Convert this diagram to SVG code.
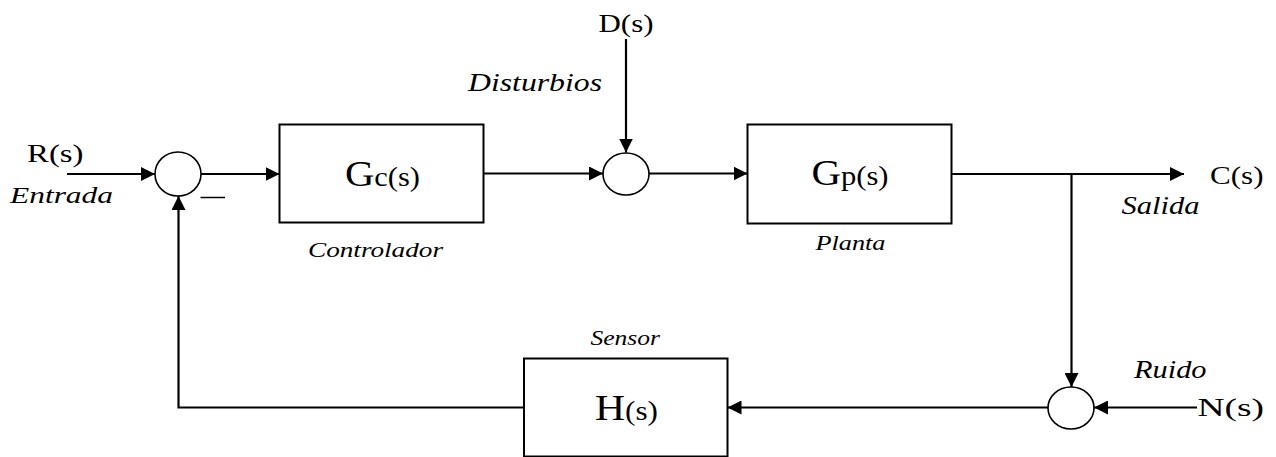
<svg xmlns="http://www.w3.org/2000/svg" width="1276" height="457" viewBox="0 0 1276 457">
<defs>
<marker id="arr" markerUnits="userSpaceOnUse" markerWidth="15" markerHeight="14" refX="14" refY="7" orient="auto">
<path d="M0,0 L14,7 L0,14 z" fill="#000"/>
</marker>
</defs>
<style>
.box{fill:#fff;stroke:#000;stroke-width:2}
.sum{fill:#fff;stroke:#000;stroke-width:1.6}
.ln{fill:none;stroke:#000;stroke-width:2.2}
text{font-family:'Liberation Serif','Times New Roman',serif;fill:#000}
.lab{font-style:italic}
</style>
<rect width="1276" height="457" fill="#fff"/>
<g id="connectors">
<line class="ln" x1="67" y1="174" x2="155" y2="174" marker-end="url(#arr)"/>
<line class="ln" x1="201" y1="174" x2="279.5" y2="174" marker-end="url(#arr)"/>
<line class="ln" x1="483.5" y1="173.5" x2="603" y2="173.5" marker-end="url(#arr)"/>
<line class="ln" x1="626" y1="39" x2="626" y2="152.5" marker-end="url(#arr)"/>
<line class="ln" x1="649" y1="173.5" x2="747.5" y2="173.5" marker-end="url(#arr)"/>
<line class="ln" x1="951.5" y1="174" x2="1184" y2="174" marker-end="url(#arr)"/>
<line class="ln" x1="1071.5" y1="174" x2="1071.5" y2="387" marker-end="url(#arr)"/>
<line class="ln" x1="1197" y1="407.5" x2="1094" y2="407.5" marker-end="url(#arr)"/>
<line class="ln" x1="1048" y1="407.5" x2="727.5" y2="407.5" marker-end="url(#arr)"/>
<polyline class="ln" points="524,407.5 178.5,407.5 178.5,196" marker-end="url(#arr)"/>
<line x1="200.5" y1="197.5" x2="225" y2="197.5" stroke="#000" stroke-width="1.5"/>
</g>
<g id="sum1"><ellipse class="sum" cx="178" cy="174" rx="23" ry="22"/></g>
<g id="sum2"><ellipse class="sum" cx="626" cy="174" rx="23" ry="21"/></g>
<g id="sum3"><ellipse class="sum" cx="1071" cy="408" rx="23" ry="21"/></g>
<g id="gc">
<rect class="box" x="279.5" y="124.5" width="204" height="98"/>
<text x="345" y="185.5" textLength="75" lengthAdjust="spacingAndGlyphs"><tspan font-size="36">G</tspan><tspan font-size="27">c(s)</tspan></text>
<text class="lab" x="308" y="256.5" font-size="22" textLength="135" lengthAdjust="spacingAndGlyphs">Controlador</text>
</g>
<g id="gp">
<rect class="box" x="747.5" y="124.5" width="204" height="99"/>
<text x="811.5" y="185" textLength="77" lengthAdjust="spacingAndGlyphs"><tspan font-size="36">G</tspan><tspan font-size="27">p(s)</tspan></text>
<text class="lab" x="815.5" y="250" font-size="22" textLength="70" lengthAdjust="spacingAndGlyphs">Planta</text>
</g>
<g id="h">
<rect class="box" x="524" y="358.5" width="203.5" height="98"/>
<text x="595" y="420" textLength="63" lengthAdjust="spacingAndGlyphs"><tspan font-size="36">H</tspan><tspan font-size="27">(s)</tspan></text>
<text class="lab" x="590.5" y="345" font-size="22" textLength="69.5" lengthAdjust="spacingAndGlyphs">Sensor</text>
</g>
<g id="input">
<text x="27" y="161.5" font-size="26" textLength="56.5" lengthAdjust="spacingAndGlyphs">R(s)</text>
<text class="lab" x="10" y="203" font-size="23" textLength="103" lengthAdjust="spacingAndGlyphs">Entrada</text>
</g>
<g id="disturbance">
<text x="598.5" y="31.5" font-size="26" textLength="55" lengthAdjust="spacingAndGlyphs">D(s)</text>
<text class="lab" x="468" y="90.5" font-size="25" textLength="134" lengthAdjust="spacingAndGlyphs">Disturbios</text>
</g>
<g id="output">
<text x="1210" y="183.5" font-size="26" textLength="53.5" lengthAdjust="spacingAndGlyphs">C(s)</text>
<text class="lab" x="1121.5" y="214" font-size="25" textLength="78" lengthAdjust="spacingAndGlyphs">Salida</text>
</g>
<g id="noise">
<text x="1197.5" y="416" font-size="26" textLength="66.5" lengthAdjust="spacingAndGlyphs">N(s)</text>
<text class="lab" x="1134" y="377.5" font-size="25" textLength="72.5" lengthAdjust="spacingAndGlyphs">Ruido</text>
</g>
</svg>
